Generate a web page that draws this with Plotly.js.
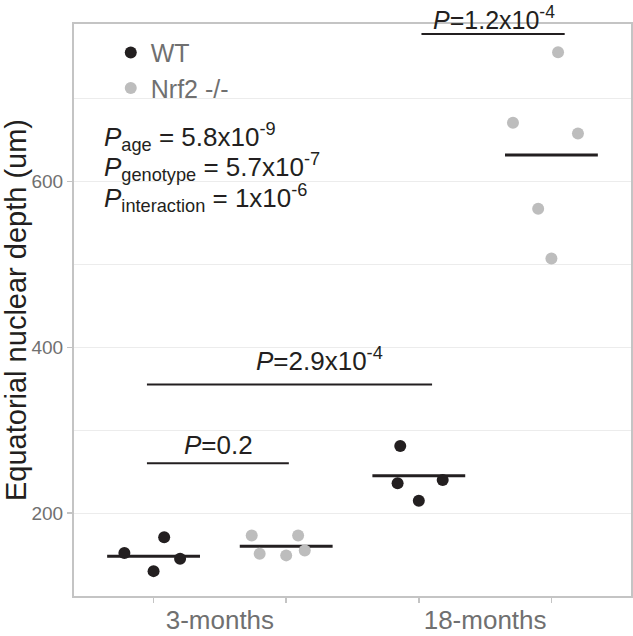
<!DOCTYPE html>
<html lang="en">
<head>
    <meta charset="utf-8">
    <script src="https://cdn.plot.ly/plotly-3.0.1.min.js"></script>
    <title>Equatorial nuclear depth</title>
    <style>
        body { margin: 0; background: #fff; }
        #divPlot { width: 633px; height: 636px; }
    </style>
</head>

<body>
    <div id="divPlot"></div>
    <script>
        // groups on the x axis: WT sits left of Nrf2 inside each age group
        var groups = ['3-months', '18-months'];

        var wtSlot   = [0, 0, 0, 0, 2, 2, 2, 2];
        var wtJitter = [-0.22, 0.08, 0.2, 0, -0.14, -0.16, 0.18, 0];
        var wtDepth  = [152, 171, 145, 130, 281, 236, 240, 215];

        var koSlot   = [1, 1, 1, 1, 1, 3, 3, 3, 3, 3];
        var koJitter = [-0.26, 0.09, -0.2, 0, 0.14, 0.05, -0.29, 0.2, -0.1, 0];
        var koDepth  = [173, 173, 151, 149, 155, 756, 671, 658, 567, 507];

        var meanDepth = [148, 160, 245, 632];

        // significance brackets
        var bracketFrom = [-0.05, -0.05, 2.02];
        var bracketTo   = [1.02, 2.1, 3.1];
        var bracketY    = [260, 355, 778];
        var bracketText = ['<i>P</i>=0.2', '<i>P</i>=2.9x10<sup>-4</sup>', '<i>P</i>=1.2x10<sup>-4</sup>'];
        var bracketTextX = [0.49, 1.25, 2.57];

        var statsText = [
            '<i>P</i><sub>age</sub> = 5.8x10<sup>-9</sup>',
            '<i>P</i><sub>genotype</sub> = 5.7x10<sup>-7</sup>',
            '<i>P</i><sub>interaction</sub> = 1x10<sup>-6</sup>'
        ];

        var ink = '#231f20';
        var greyText = '#707070';
        var frame = '#c4c4c4';
        var font = 'Liberation Sans, Arial, sans-serif';

        function addJitter(slot, jit) {
            var out = [];
            for (var i = 0; i < slot.length; i++) out.push(slot[i] + jit[i]);
            return out;
        }

        var trace1 = {
            type: 'scatter', mode: 'markers', name: 'WT',
            x: addJitter(wtSlot, wtJitter), y: wtDepth,
            marker: {color: ink, size: 12},
            hoverinfo: 'skip'
        };
        var trace2 = {
            type: 'scatter', mode: 'markers', name: 'Nrf2 -/-',
            x: addJitter(koSlot, koJitter), y: koDepth,
            marker: {color: '#bdbdbd', size: 12},
            hoverinfo: 'skip'
        };

        // mean bars
        var mx = [], my = [];
        for (var i = 0; i < meanDepth.length; i++) {
            mx.push(i - 0.35, i + 0.35, null);
            my.push(meanDepth[i], meanDepth[i], null);
        }
        var trace3 = {
            type: 'scatter', mode: 'lines', x: mx, y: my,
            line: {color: ink, width: 3}, showlegend: false, hoverinfo: 'skip'
        };

        var bx = [], by = [];
        for (var j = 0; j < bracketY.length; j++) {
            bx.push(bracketFrom[j], bracketTo[j], null);
            by.push(bracketY[j], bracketY[j], null);
        }
        var trace4 = {
            type: 'scatter', mode: 'lines', x: bx, y: by,
            line: {color: ink, width: 2}, showlegend: false, hoverinfo: 'skip',
            cliponaxis: false
        };

        var annotations = [];
        var shifts = [1, 7, -2];
        var sizes = [26, 26, 25];
        for (var k = 0; k < bracketText.length; k++) {
            annotations.push({
                x: bracketTextX[k], y: bracketY[k], xref: 'x', yref: 'y',
                text: bracketText[k], showarrow: false,
                xanchor: 'center', yanchor: 'bottom', yshift: shifts[k],
                font: {family: font, size: sizes[k], color: ink}
            });
        }
        var statsY = [0.802, 0.75, 0.696];
        for (var s = 0; s < statsText.length; s++) {
            annotations.push({
                x: 0.05, y: statsY[s], xref: 'paper', yref: 'paper',
                text: statsText[s], showarrow: false,
                xanchor: 'left', yanchor: 'middle',
                font: {family: font, size: 26, color: ink}
            });
        }

        var data = [trace3, trace4, trace1, trace2];
        var layout = {
            width: 633, height: 636,
            margin: {l: 74, r: 2, t: 24, b: 40},
            paper_bgcolor: '#ffffff', plot_bgcolor: '#ffffff',
            font: {family: font},
            showlegend: true,
            legend: {
                x: 0.066, y: 0.99, xanchor: 'left', yanchor: 'top',
                bgcolor: 'rgba(0,0,0,0)',
                font: {family: font, size: 25, color: greyText}
            },
            xaxis: {
                range: [-0.6, 3.6],
                tickmode: 'array', tickvals: [0.5, 2.5], ticktext: groups,
                ticks: '', showgrid: false, zeroline: false,
                showline: true, mirror: true, linecolor: frame, linewidth: 2,
                tickfont: {size: 26, color: greyText},
                minor: {tickmode: 'array', tickvals: [0, 1, 2, 3], ticks: 'outside',
                        ticklen: 5, tickwidth: 1.5, tickcolor: frame, showgrid: false}
            },
            yaxis: {
                range: [100, 790],
                tickmode: 'linear', tick0: 0, dtick: 200,
                ticks: 'outside', ticklen: 5, tickwidth: 1.5, tickcolor: frame,
                showgrid: true, gridcolor: '#ececec', gridwidth: 1, zeroline: false,
                showline: true, mirror: true, linecolor: frame, linewidth: 2,
                tickfont: {size: 19, color: greyText},
                minor: {tick0: 0, dtick: 100, showgrid: true, gridcolor: '#ececec', ticks: ''},
                title: {text: 'Equatorial nuclear depth (um)', standoff: 8,
                        font: {size: 29, color: ink}}
            },
            annotations: annotations
        };
        var config = {displayModeBar: false, staticPlot: true};
        Plotly.newPlot('divPlot', data, layout, config);
    </script>
</body>
</html>
